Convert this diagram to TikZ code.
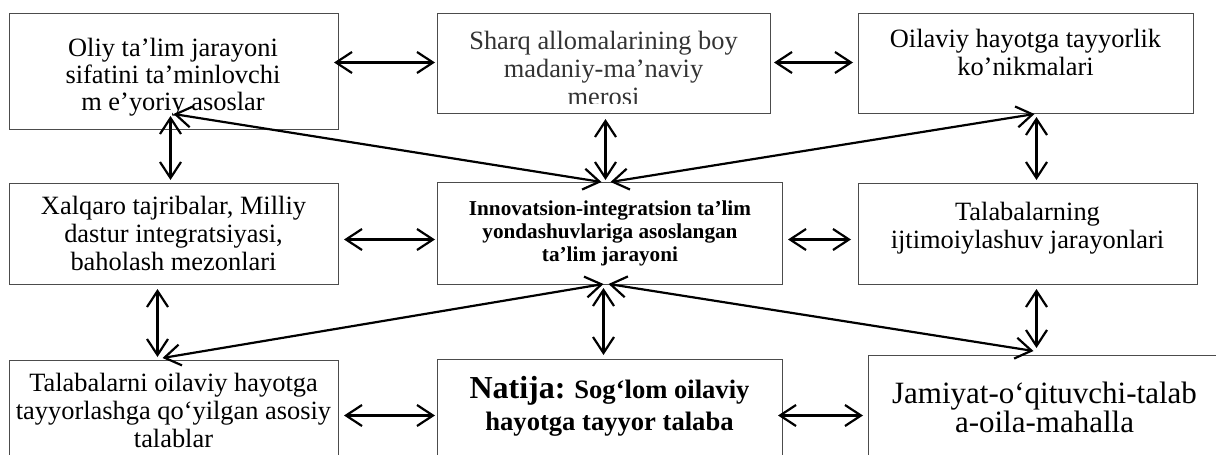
\documentclass[tikz,border=0pt]{standalone}
\usepackage{fontspec}
\setmainfont{Liberation Serif}
\usetikzlibrary{arrows.meta,calc}

\tikzset{
  box/.style={draw=black!70,line width=0.5pt,anchor=north west,inner sep=0pt},
  txt/.style={anchor=base,align=center,inner sep=0pt,font=\fontsize{13.2}{13.8}\selectfont},
  link/.style={<->,>={Straight Barb[length=8pt,width=10.5pt]},line width=1.1pt}
}

\begin{document}
\begin{tikzpicture}[x=0.5pt,y=-0.5pt]
\clip (0,0) rectangle (1216,455);
% boxes
\node[box,minimum width=164.5pt,minimum height=58pt] (oliy) at (9,13) {};
\node[box,minimum width=166.5pt,minimum height=50pt] (sharq) at (437,13) {};
\node[box,minimum width=167.5pt,minimum height=50pt] (oila) at (858,13) {};
\node[box,minimum width=164.5pt,minimum height=50.5pt] (xalq) at (9,183) {};
\node[box,minimum width=172.5pt,minimum height=51pt] (innov) at (437,182) {};
\node[box,minimum width=169.5pt,minimum height=50.5pt] (ijtim) at (858,183) {};
\node[box,minimum width=164.5pt,minimum height=55pt] (talab) at (9,360) {};
\node[box,minimum width=172.5pt,minimum height=55pt] (natija) at (437,359) {};
\node[box,minimum width=180pt,minimum height=55pt] (jamiyat) at (868,355) {};
% texts (base = last line)
\node[txt,font=\fontsize{13.2}{13.4}\selectfont] (oliyt) at (173,110) {Oliy ta’lim jarayoni\\sifatini ta’minlovchi\\m e’yoriy asoslar};
\begin{scope}
\clip (437,13) rectangle (770,103);
\node[txt,text=black!80] (sharqt) at (603.5,105) {Sharq allomalarining boy\\madaniy-ma’naviy\\merosi};
\end{scope}
\node[txt] (oilat) at (1025.5,75) {Oilaviy hayotga tayyorlik\\ko’nikmalari};
\node[txt] (xalqt) at (173.5,270) {Xalqaro tajribalar, Milliy\\dastur integratsiyasi,\\baholash mezonlari};
\node[txt,font=\fontsize{10.6}{11.5}\selectfont\bfseries] (innovt) at (610,261) {Innovatsion-integratsion ta’lim\\yondashuvlariga asoslangan\\ta’lim jarayoni};
\node[txt] (ijtimt) at (1027.5,248) {Talabalarning\\ijtimoiylashuv jarayonlari};
\node[txt] (talabt) at (173.5,447) {Talabalarni oilaviy hayotga\\tayyorlashga qo‘yilgan asosiy\\talablar};
\node[txt,font=\fontsize{13.3}{16}\selectfont\bfseries] (natijat) at (609.5,430) {{\fontsize{16}{16}\selectfont Natija:} Sog‘lom oilaviy\\hayotga tayyor talaba};
\node[txt,font=\fontsize{15.5}{14.5}\selectfont] (jamiyatt) at (1044.5,432) {Jamiyat-o‘qituvchi-talab\\a-oila-mahalla};
% rows
\draw[link] ($(oliy.east)+(-5,-9)$) -- ($(sharq.west)+(-2,-1)$);
\draw[link] ($(sharq.east)+(3,-1)$) -- ($(oila.west)+(-5,-1)$);
\draw[link] ($(xalq.east)+(5,5.5)$) -- ($(innov.west)+(-2,6)$);
\draw[link] ($(innov.east)+(5,6)$) -- ($(ijtim.west)+(-7,5.5)$);
\draw[link] ($(talab.east)+(5,0)$) -- ($(natija.west)+(-2,1)$);
\draw[link] ($(natija.east)+(-5,1)$) -- ($(jamiyat.west)+(-5,5)$);
% columns
\draw[link] ($(oliy.south)+(-3.5,-14)$) -- ($(xalq.north)+(-3.5,-3)$);
\draw[link] ($(sharq.south)+(1.5,5)$) -- ($(innov.north)+(-4.5,-2)$);
\draw[link] ($(oila.south)+(10.5,3)$) -- ($(ijtim.north)+(8.5,-3)$);
\draw[link] ($(xalq.south)+(-16.5,4)$) -- ($(talab.north)+(-16.5,-3)$);
\draw[link] ($(innov.south)+(-6.5,3)$) -- ($(natija.north)+(-6.5,-4)$);
\draw[link] ($(ijtim.south)+(8.5,4)$) -- ($(jamiyat.north)+(-12,-7)$);
% diagonals
\draw[link] ($(oliy.south)+(-0.5,-16)$) -- ($(innov.north)+(-8.5,0)$);
\draw[link] ($(oila.south)+(8.5,0)$) -- ($(innov.north)+(0.5,0)$);
\draw[link] ($(talab.north)+(-11.5,-2)$) -- ($(innov.south)+(-6.5,-1)$);
\draw[link] ($(jamiyat.north)+(-15,-4)$) -- ($(innov.south)+(-1.5,-1)$);
\end{tikzpicture}
\end{document}
